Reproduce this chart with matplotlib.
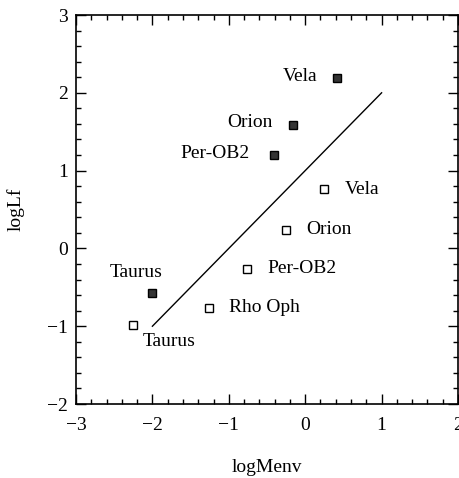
import matplotlib
matplotlib.use("Agg")
import matplotlib.pyplot as plt
from matplotlib.ticker import MultipleLocator

plt.rcParams['font.family'] = ['Liberation Serif', 'DejaVu Serif']

# Filled squares
filled_names = ["Vela", "Orion", "Per-OB2", "Taurus"]
filled_x = [0.42, -0.16, -0.41, -2.0]
filled_y = [2.19, 1.59, 1.20, -0.57]

# Open squares
open_names = ["Vela", "Orion", "Per-OB2", "Rho Oph", "Taurus"]
open_x = [0.25, -0.25, -0.76, -1.26, -2.25]
open_y = [0.76, 0.24, -0.26, -0.76, -0.99]

# Reference line
line_x = [-2, 1]
line_y = [-1, 2]

x_ticks = [-3, -2, -1, 0, 1, 2]
y_ticks = [-2, -1, 0, 1, 2, 3]

fig = plt.figure(figsize=(4.59, 4.78), dpi=100)
ax = fig.add_axes([0.1656, 0.1548, 0.8322, 0.8138])

ax.plot(line_x, line_y, color='black', lw=1.0)
ax.plot(filled_x, filled_y, ls='none', marker='s', ms=5.5,
        mfc='#333333', mec='black', mew=1.0)
ax.plot(open_x, open_y, ls='none', marker='s', ms=6,
        mfc='white', mec='black', mew=1.0)

fs = 14
# labels for filled squares
for name, x, y in zip(filled_names, filled_x, filled_y):
    if name == "Taurus":
        ax.annotate(name, (x, y), xytext=(-16, 20), textcoords='offset pixels',
                    ha='center', va='center', fontsize=fs)
    else:
        off = -24 if name == "Per-OB2" else -20
        ax.annotate(name, (x, y), xytext=(off, 2), textcoords='offset pixels',
                    ha='right', va='center', fontsize=fs)

# labels for open squares
for name, x, y in zip(open_names, open_x, open_y):
    if name == "Taurus":
        ax.annotate(name, (x, y), xytext=(9, -16), textcoords='offset pixels',
                    ha='left', va='center', fontsize=fs)
    else:
        ax.annotate(name, (x, y), xytext=(20, 0), textcoords='offset pixels',
                    ha='left', va='center', fontsize=fs)

ax.set_xlim(-3, 2)
ax.set_ylim(-2, 3)
ax.set_xticks(x_ticks)
ax.set_yticks(y_ticks)
ax.set_xticklabels([str(t).replace('-', '\u2212') for t in x_ticks])
ax.set_yticklabels([str(t).replace('-', '\u2212') for t in y_ticks])
ax.xaxis.set_minor_locator(MultipleLocator(0.2))
ax.yaxis.set_minor_locator(MultipleLocator(0.2))
ax.tick_params(which='both', direction='in', top=True, right=True,
               labelsize=fs, width=1.0)
ax.tick_params(which='major', length=7)
ax.tick_params(axis='x', which='major', pad=9)
ax.tick_params(axis='y', which='major', pad=6)
ax.tick_params(which='minor', length=3.5)
for s in ax.spines.values():
    s.set_linewidth(1.2)

ax.set_xlabel("logMenv", fontsize=fs, labelpad=18)
ax.set_ylabel("logLf", fontsize=fs, labelpad=16)

fig.savefig("out.png", dpi=100)
